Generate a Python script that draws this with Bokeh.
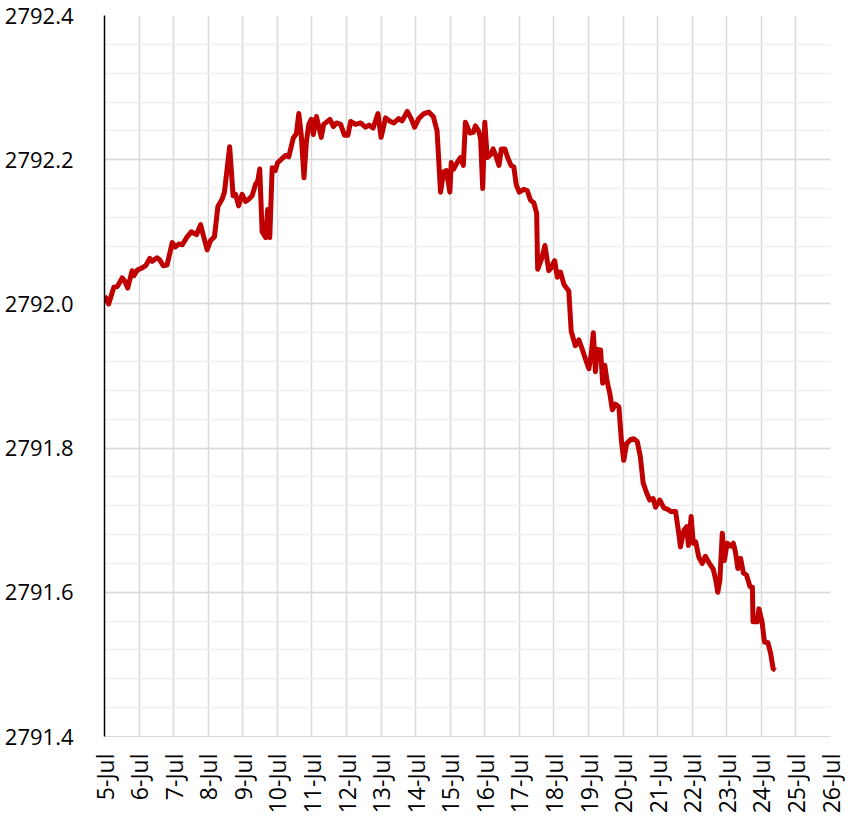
from bokeh.plotting import figure
from bokeh.models import Range1d, FixedTicker, PrintfTickFormatter
from bokeh.embed import file_html
from bokeh.resources import INLINE
from math import pi

# Day of July (fractional) and water level
days = [5.00, 5.03, 5.12, 5.27, 5.37, 5.51, 5.58, 5.67, 5.80, 5.85, 5.95, 6.09, 6.19, 6.31, 6.38,
        6.52, 6.60, 6.70, 6.81, 6.96, 7.05, 7.15, 7.25, 7.39, 7.51, 7.66, 7.78, 7.87, 7.97, 8.07,
        8.18, 8.28, 8.40, 8.47, 8.62, 8.72, 8.79, 8.88, 8.98, 9.08, 9.17, 9.27, 9.37, 9.43, 9.49,
        9.56, 9.66, 9.72, 9.78, 9.85, 9.94, 10.01, 10.24, 10.33, 10.46, 10.55, 10.62, 10.69, 10.77,
        10.84, 10.91, 10.98, 11.04, 11.13, 11.27, 11.34, 11.52, 11.62, 11.71, 11.83, 11.94, 12.04,
        12.12, 12.26, 12.41, 12.55, 12.65, 12.77, 12.91, 13.00, 13.13, 13.27, 13.37, 13.51, 13.61,
        13.76, 13.87, 13.97, 14.09, 14.24, 14.38, 14.51, 14.62, 14.72, 14.81, 14.89, 14.99, 15.03,
        15.10, 15.20, 15.30, 15.38, 15.44, 15.57, 15.67, 15.73, 15.83, 15.88, 15.94, 16.00, 16.07,
        16.17, 16.24, 16.31, 16.41, 16.48, 16.58, 16.67, 16.76, 16.84, 16.91, 17.00, 17.13, 17.23,
        17.32, 17.42, 17.50, 17.53, 17.64, 17.74, 17.85, 17.92, 18.02, 18.10, 18.19, 18.29, 18.43,
        18.50, 18.62, 18.72, 18.82, 18.91, 19.01, 19.08, 19.14, 19.20, 19.25, 19.35, 19.41, 19.47,
        19.54, 19.62, 19.69, 19.78, 19.88, 19.95, 20.02, 20.10, 20.22, 20.31, 20.41, 20.50, 20.58,
        20.68, 20.77, 20.87, 20.94, 21.06, 21.18, 21.29, 21.39, 21.52, 21.61, 21.66, 21.76, 21.84,
        21.89, 21.97, 22.03, 22.10, 22.19, 22.29, 22.38, 22.51, 22.61, 22.68, 22.74, 22.80, 22.87,
        22.93, 23.01, 23.11, 23.19, 23.25, 23.32, 23.40, 23.48, 23.57, 23.67, 23.74, 23.76, 23.88,
        23.93, 24.02, 24.09, 24.19, 24.27, 24.34, 24.41]

levels = [2792.010, 2792.009, 2792.000, 2792.023, 2792.024, 2792.036, 2792.032, 2792.022, 2792.046,
          2792.039, 2792.047, 2792.050, 2792.053, 2792.063, 2792.059, 2792.064, 2792.061, 2792.053,
          2792.054, 2792.085, 2792.079, 2792.083, 2792.082, 2792.093, 2792.100, 2792.096, 2792.110,
          2792.093, 2792.075, 2792.088, 2792.093, 2792.135, 2792.145, 2792.155, 2792.218, 2792.150,
          2792.152, 2792.136, 2792.152, 2792.142, 2792.145, 2792.150, 2792.166, 2792.170, 2792.187,
          2792.100, 2792.092, 2792.131, 2792.092, 2792.189, 2792.185, 2792.196, 2792.206, 2792.204,
          2792.230, 2792.236, 2792.264, 2792.235, 2792.175, 2792.225, 2792.249, 2792.256, 2792.235,
          2792.260, 2792.231, 2792.249, 2792.256, 2792.246, 2792.251, 2792.249, 2792.234, 2792.234,
          2792.253, 2792.249, 2792.251, 2792.245, 2792.248, 2792.244, 2792.264, 2792.231, 2792.258,
          2792.253, 2792.251, 2792.257, 2792.254, 2792.267, 2792.257, 2792.245, 2792.257, 2792.264,
          2792.266, 2792.260, 2792.240, 2792.155, 2792.183, 2792.185, 2792.155, 2792.196, 2792.187,
          2792.196, 2792.203, 2792.192, 2792.252, 2792.237, 2792.238, 2792.247, 2792.239, 2792.228,
          2792.160, 2792.252, 2792.203, 2792.207, 2792.215, 2792.207, 2792.192, 2792.215, 2792.215,
          2792.202, 2792.192, 2792.190, 2792.165, 2792.155, 2792.159, 2792.157, 2792.144, 2792.140,
          2792.126, 2792.048, 2792.062, 2792.081, 2792.046, 2792.050, 2792.060, 2792.037, 2792.044,
          2792.027, 2792.018, 2791.962, 2791.942, 2791.950, 2791.937, 2791.924, 2791.910, 2791.931,
          2791.960, 2791.906, 2791.937, 2791.936, 2791.890, 2791.915, 2791.892, 2791.875, 2791.853,
          2791.861, 2791.857, 2791.811, 2791.783, 2791.806, 2791.812, 2791.813, 2791.809, 2791.788,
          2791.752, 2791.738, 2791.728, 2791.730, 2791.718, 2791.728, 2791.717, 2791.715, 2791.712,
          2791.712, 2791.682, 2791.663, 2791.686, 2791.691, 2791.665, 2791.705, 2791.668, 2791.670,
          2791.649, 2791.640, 2791.650, 2791.639, 2791.632, 2791.617, 2791.600, 2791.617, 2791.682,
          2791.644, 2791.668, 2791.664, 2791.668, 2791.656, 2791.633, 2791.647, 2791.627, 2791.624,
          2791.608, 2791.607, 2791.559, 2791.559, 2791.577, 2791.559, 2791.531, 2791.530, 2791.515,
          2791.494, 2791.492]

x_ticks = list(range(5, 27))
x_labels = {d: f"{d}-Jul" for d in x_ticks}
y_ticks = [2791.4, 2791.6, 2791.8, 2792.0, 2792.2, 2792.4]
y_min, y_max = 2791.4, 2792.4

p = figure(width=854, height=830, output_backend="svg", toolbar_location=None,
           x_range=Range1d(5, 26), y_range=Range1d(y_min, y_max),
           min_border_left=104, min_border_right=24, min_border_top=15, min_border_bottom=94)
p.outline_line_color = None
p.background_fill_color = "white"
p.border_fill_color = "white"

font = "Open Sans"

p.xaxis.ticker = FixedTicker(ticks=x_ticks)
p.xaxis.major_label_overrides = x_labels
p.xaxis.major_label_orientation = pi / 2
p.xaxis.major_label_text_font = font
p.xaxis.major_label_text_font_size = "23px"
p.xaxis.major_label_text_color = "#000000"
p.xaxis.major_label_standoff = 11
p.xaxis.axis_line_color = "#D9D9D9"
p.xaxis.major_tick_line_color = None
p.xaxis.minor_tick_line_color = None

minor = [round(y_min + 0.04 * i, 2) for i in range(26)]
p.yaxis.ticker = FixedTicker(ticks=y_ticks, minor_ticks=minor)
p.yaxis.formatter = PrintfTickFormatter(format="%.1f")
p.yaxis.major_label_text_font = font
p.yaxis.major_label_text_font_size = "22px"
p.yaxis.major_label_text_color = "#000000"
p.yaxis.major_label_standoff = 25
p.yaxis.axis_line_color = "#000000"
p.yaxis.axis_line_width = 1.5
p.yaxis.major_tick_line_color = None
p.yaxis.minor_tick_line_color = None

p.xgrid.grid_line_color = "#D9D9D9"
p.xgrid.grid_line_width = 1.5
p.ygrid.grid_line_color = "#D9D9D9"
p.ygrid.grid_line_width = 1.5
p.ygrid.minor_grid_line_color = "#EFEFEF"
p.ygrid.minor_grid_line_width = 1.5

p.line(days, levels, line_color="#C00000", line_width=5, line_join="round")

open("out.html", "w").write(file_html(p, INLINE))
